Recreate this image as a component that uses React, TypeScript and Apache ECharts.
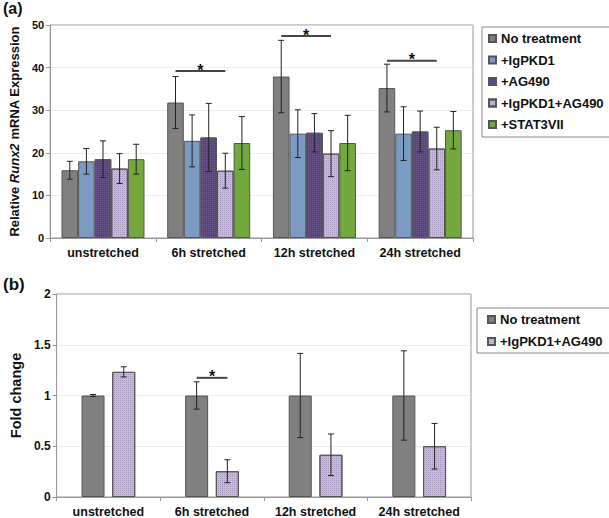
import React, { useEffect, useRef } from 'react';
import * as echarts from 'echarts';

const categories = ['unstretched', '6h stretched', '12h stretched', '24h stretched'];
const topNames = ['No treatment', '+IgPKD1', '+AG490', '+IgPKD1+AG490', '+STAT3VII'];
const topNoTreat = [15.9, 31.8, 37.9, 35.2];
const topNoTreatErr = [2.1, 6.1, 8.5, 5.6];
const topIgPKD1 = [18.0, 22.8, 24.5, 24.5];
const topIgPKD1Err = [3.0, 6.1, 5.6, 6.3];
const topAG490 = [18.5, 23.6, 24.7, 25.0];
const topAG490Err = [4.3, 8.0, 4.5, 4.8];
const topCombo = [16.3, 15.8, 19.8, 21.0];
const topComboErr = [3.5, 4.1, 5.4, 5.0];
const topSTAT = [18.5, 22.3, 22.3, 25.3];
const topSTATErr = [3.5, 6.2, 6.5, 4.4];
const topSig = [[1, 39.2], [2, 47.4], [3, 41.6]];

const bottomNames = ['No treatment', '+IgPKD1+AG490'];
const botNoTreat = [1, 1, 1, 1];
const botNoTreatErr = [0.01, 0.135, 0.415, 0.44];
const botCombo = [1.233, 0.254, 0.416, 0.5];
const botComboErr = [0.05, 0.113, 0.205, 0.225];
const botSig = [[1, 1.174]];

const FONT = '"Liberation Sans", Arial, sans-serif';
const colors = ['#808080', '#7b9bc2', '#5b437f', '#c5bad8', '#72a83e'];

export default function App() {
  const ref = useRef<HTMLDivElement>(null);
  useEffect(() => {
    const chart = echarts.init(ref.current!, null, { renderer: 'svg' });

    const topBW = 16.6;
    const botBW = 23;
    const botStep = 30.7;

    const barSeries = (name: string, data: number[], color: string, idx: number, bw: number, gap: string, decal?: any) => ({
      type: 'bar',
      name,
      data,
      xAxisIndex: idx,
      yAxisIndex: idx,
      barWidth: bw,
      barGap: gap,
      itemStyle: { color, borderColor: '#555', borderWidth: 1, decal },
      silent: true,
    });

    const errorSeries = (means: number[], errs: number[], offset: number, idx: number) => ({
      type: 'custom',
      xAxisIndex: idx,
      yAxisIndex: idx,
      z: 10,
      silent: true,
      data: means.map((m, i) => [i, m - errs[i], m + errs[i]]),
      encode: { x: 0, y: [1, 2] },
      renderItem: (params: any, api: any) => {
        const lo = api.coord([api.value(0), api.value(1)]);
        const hi = api.coord([api.value(0), api.value(2)]);
        const x = lo[0] + offset;
        const cap = 3;
        const style = { stroke: '#222', lineWidth: 1 };
        return {
          type: 'group',
          children: [
            { type: 'line', shape: { x1: x, y1: lo[1], x2: x, y2: hi[1] }, style },
            { type: 'line', shape: { x1: x - cap, y1: hi[1], x2: x + cap, y2: hi[1] }, style },
            { type: 'line', shape: { x1: x - cap, y1: lo[1], x2: x + cap, y2: lo[1] }, style },
          ],
        };
      },
    });

    const sigSeries = (data: number[][], x0: number, x1: number, idx: number) => ({
      type: 'custom',
      xAxisIndex: idx,
      yAxisIndex: idx,
      z: 11,
      silent: true,
      data,
      encode: { x: 0, y: 1 },
      renderItem: (params: any, api: any) => {
        const p = api.coord([api.value(0), api.value(1)]);
        return {
          type: 'group',
          children: [
            { type: 'line', shape: { x1: p[0] + x0, y1: p[1], x2: p[0] + x1, y2: p[1] }, style: { stroke: '#444', lineWidth: 2 } },
            {
              type: 'text',
              x: p[0] + (x0 + x1) / 2,
              y: p[1] - 1,
              style: { text: '*', font: 'bold 16px ' + FONT, fill: '#111', align: 'center', verticalAlign: 'middle' },
            },
          ],
        };
      },
    });

    const comboDecal = { symbol: 'rect', symbolSize: 1, color: 'rgba(110,90,140,0.35)', dashArrayX: [1, 1], dashArrayY: [1, 1], rotation: 0 };
    const purpleDecal = { symbol: 'rect', symbolSize: 1, color: 'rgba(255,255,255,0.12)', dashArrayX: [1, 1], dashArrayY: [1, 1], rotation: 0 };

    const axisLabel = { fontFamily: FONT, fontWeight: 'bold', color: '#111' };
    const legendBase = {
      orient: 'vertical',
      itemWidth: 7,
      itemHeight: 7,
      icon: 'rect',
      selectedMode: false,
      borderColor: '#888',
      borderWidth: 1,
      borderRadius: 0,
      textStyle: { fontFamily: FONT, fontWeight: 'bold', fontSize: 13, color: '#111' },
    };

    const topMeans = [topNoTreat, topIgPKD1, topAG490, topCombo, topSTAT];
    const topErrs = [topNoTreatErr, topIgPKD1Err, topAG490Err, topComboErr, topSTATErr];

    const series: any[] = [];
    topMeans.forEach((d, i) => {
      series.push(barSeries(topNames[i], d, colors[i], 0, topBW, '0%', i === 3 ? comboDecal : i === 2 ? purpleDecal : undefined));
    });
    topMeans.forEach((d, i) => {
      series.push(errorSeries(d, topErrs[i], (i - 2) * topBW, 0));
    });
    series.push(sigSeries(topSig, -2 * topBW, 1 * topBW, 0));

    series.push(barSeries(bottomNames[0], botNoTreat, colors[0], 1, botBW, '33.5%'));
    series.push(barSeries(bottomNames[1], botCombo, colors[3], 1, botBW, '33.5%', comboDecal));
    series.push(errorSeries(botNoTreat, botNoTreatErr, -botStep / 2, 1));
    series.push(errorSeries(botCombo, botComboErr, botStep / 2, 1));
    series.push(sigSeries(botSig, -botStep / 2, botStep / 2, 1));

    const option: any = {
      animation: false,
      grid: [
        { left: 39, top: 25, width: 434, height: 213, show: true, borderColor: '#999', borderWidth: 1 },
        { left: 53, top: 294, width: 418, height: 205, show: true, borderColor: '#999', borderWidth: 1 },
      ],
      xAxis: [0, 1].map((gi) => ({
        type: 'category',
        gridIndex: gi,
        data: categories,
        axisLine: { lineStyle: { color: '#999' } },
        axisTick: { show: true, length: 4, lineStyle: { color: '#999' } },
        axisLabel: { ...axisLabel, fontSize: 12.5, margin: 8, interval: 0, hideOverlap: false },
        splitLine: { show: false },
      })),
      yAxis: [
        {
          type: 'value',
          gridIndex: 0,
          min: 0,
          max: 50,
          interval: 10,
          axisLine: { show: true, lineStyle: { color: '#999' } },
          axisTick: { show: true, length: 4, lineStyle: { color: '#999' } },
          axisLabel: { ...axisLabel, fontSize: 11, margin: 6 },
          splitLine: { show: true, lineStyle: { color: '#ddd', type: 'dotted' } },
          name: '{a|Relative }{b|Runx2}{a| mRNA Expression}',
          nameLocation: 'middle',
          nameRotate: 90,
          nameGap: 20,
          nameTextStyle: {
            rich: {
              a: { fontFamily: FONT, fontWeight: 'bold', fontSize: 13, color: '#111' },
              b: { fontFamily: FONT, fontWeight: 'bold', fontStyle: 'italic', fontSize: 13, color: '#111' },
            },
          },
        },
        {
          type: 'value',
          gridIndex: 1,
          min: 0,
          max: 2,
          interval: 0.5,
          axisLine: { show: true, lineStyle: { color: '#999' } },
          axisTick: { show: true, length: 4, lineStyle: { color: '#999' } },
          axisLabel: { ...axisLabel, fontSize: 12, margin: 6 },
          splitLine: { show: true, lineStyle: { color: '#ddd', type: 'dotted' } },
          name: 'Fold change',
          nameLocation: 'middle',
          nameRotate: 90,
          nameGap: 32,
          nameTextStyle: { fontFamily: FONT, fontWeight: 'bold', fontSize: 14.5, color: '#111' },
        },
      ],
      legend: [
        { ...legendBase, data: topNames, left: 482, top: 27, itemGap: 8.5, padding: [5, 6, 6, 6] },
        { ...legendBase, data: bottomNames, left: 477, top: 308, itemGap: 9, padding: [5, 11, 5, 10] },
      ],
      graphic: [
        { type: 'text', left: 3, top: 0, style: { text: '(a)', font: 'bold 16px ' + FONT, fill: '#111' } },
        { type: 'text', left: 3, top: 276, style: { text: '(b)', font: 'bold 17px ' + FONT, fill: '#111' } },
      ],
      series,
    };
    chart.setOption(option);
    return () => chart.dispose();
  }, []);
  return <div ref={ref} style={{ position: 'absolute', left: 0, top: 0, width: 609, height: 518 }} />;
}
